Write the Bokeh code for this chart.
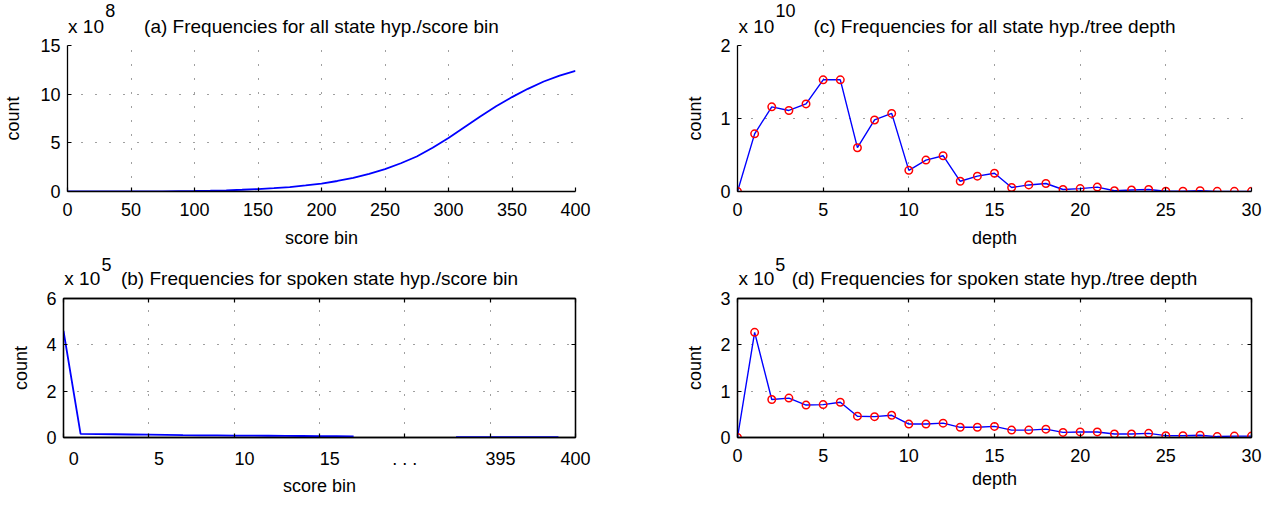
from bokeh.plotting import figure
from bokeh.layouts import column, row
from bokeh.models import (Range1d, LinearAxis, FixedTicker, SingleIntervalTicker, Grid)
from bokeh.embed import file_html
from bokeh.resources import INLINE

FONT = "Liberation Sans"
FS = "18px"
FS_HEAD = "19px"

# ---------------- data ----------------
# (a) all state hyp. per score bin, counts in units of 1e8
score_bins_a = [0, 25, 50, 75, 100, 112.5, 125, 137.5, 150, 162.5, 175, 187.5, 200, 212.5,
                225, 237.5, 250, 262.5, 275, 287.5, 300, 312.5, 325, 337.5, 350, 362.5,
                375, 387.5, 400]
counts_a = [0.0, 0.0, 0.005, 0.015, 0.05, 0.08, 0.12, 0.18, 0.25, 0.34, 0.45, 0.62, 0.82,
            1.08, 1.4, 1.82, 2.3, 2.9, 3.6, 4.5, 5.5, 6.6, 7.7, 8.75, 9.7, 10.55, 11.3,
            11.9, 12.4]

# (b) spoken state hyp. per score bin (broken axis), counts in units of 1e5
b_pos_left = [0, 1, 2, 3, 4, 5, 6, 7, 8, 9, 10, 11, 12, 13, 14, 15, 16, 17]
b_counts_left = [4.6, 0.16, 0.15, 0.14, 0.13, 0.12, 0.11, 0.10, 0.095, 0.09, 0.085,
                 0.08, 0.075, 0.07, 0.065, 0.06, 0.055, 0.05]
b_pos_right = [23, 24, 25, 26, 27, 28, 29]
b_counts_right = [0.02, 0.02, 0.015, 0.015, 0.01, 0.01, 0.01]
b_label_pos = [0.6, 5.6, 10.6, 15.6, 20, 25.6, 30]
b_label_text = ["0", "5", "10", "15", ". . .", "395", "400"]

# (c) all state hyp. per tree depth, counts in units of 1e10
depth = list(range(31))
counts_c = [0.0, 0.79, 1.16, 1.11, 1.20, 1.53, 1.53, 0.60, 0.98, 1.07, 0.29, 0.43, 0.49,
            0.14, 0.21, 0.25, 0.055, 0.09, 0.11, 0.027, 0.04, 0.06, 0.01, 0.02, 0.027,
            0.004, 0.005, 0.01, 0.002, 0.002, 0.002]

# (d) spoken state hyp. per tree depth, counts in units of 1e5
counts_d = [0.0, 2.27, 0.82, 0.85, 0.70, 0.71, 0.76, 0.46, 0.45, 0.48, 0.29, 0.29, 0.31,
            0.22, 0.22, 0.24, 0.16, 0.16, 0.18, 0.11, 0.12, 0.12, 0.075, 0.075, 0.09,
            0.04, 0.04, 0.05, 0.02, 0.03, 0.03]

titles = ["(a) Frequencies for all state hyp./score bin",
          "(b) Frequencies for spoken state hyp./score bin",
          "(c) Frequencies for all state hyp./tree depth",
          "(d) Frequencies for spoken state hyp./tree depth"]
exponents = ["8", "5", "10", "5"]

BLUE = "#0000ff"
RED = "#ff0000"


def style_axis(ax, label_standoff=None):
    ax.axis_line_color = "black"
    ax.axis_line_width = 1.3
    ax.major_tick_in = 4
    ax.major_tick_out = 0
    ax.major_tick_line_color = "black"
    ax.major_tick_line_width = 1.2
    ax.minor_tick_in = 4
    ax.minor_tick_out = 0
    ax.minor_tick_line_color = None
    ax.minor_tick_line_width = 1.2
    ax.major_label_text_font = FONT
    ax.major_label_text_font_size = FS
    ax.major_label_text_color = "black"
    ax.axis_label_text_font = FONT
    ax.axis_label_text_font_size = FS
    ax.axis_label_text_font_style = "normal"
    ax.axis_label_text_color = "black"
    if label_standoff is not None:
        ax.axis_label_standoff = label_standoff


def style_grid(g):
    g.grid_line_color = "black"
    g.grid_line_alpha = 0.75
    g.grid_line_width = 1
    g.grid_line_dash = "1 13"


def make_fig(width, height, xr, yr, borders, no_x_axis=False):
    l, r, t, b = borders
    p = figure(width=width, height=height, x_range=Range1d(*xr), y_range=Range1d(*yr),
               output_backend="svg", toolbar_location=None, title=None,
               min_border_left=l, min_border_right=r, min_border_top=t, min_border_bottom=b,
               x_axis_type=None if no_x_axis else "linear")
    p.background_fill_color = "white"
    p.border_fill_color = "white"
    return p


def add_head(p, x10_pos, exp_pos, xmid, title, exp, s_main, s_sup, box_ticks=None):
    # header line: "x 10" and the panel title, as labels of an axis above the frame
    head = LinearAxis(ticker=FixedTicker(ticks=[x10_pos, xmid], minor_ticks=box_ticks or []),
                      major_label_overrides={x10_pos: "x 10", xmid: title})
    style_axis(head, 0)
    head.major_label_text_font_size = FS_HEAD
    head.major_tick_line_color = None
    head.major_label_standoff = s_main
    if box_ticks:
        head.minor_tick_line_color = "black"
    else:
        head.axis_line_color = None
    p.add_layout(head, "above")
    # exponent, raised above the header line
    sup = LinearAxis(ticker=FixedTicker(ticks=[exp_pos]),
                     major_label_overrides={exp_pos: exp})
    style_axis(sup, 0)
    sup.axis_line_color = None
    sup.major_tick_line_color = None
    sup.major_label_standoff = s_sup
    p.add_layout(sup, "above")


def add_right_box(p, yticks):
    p.outline_line_color = "black"
    p.outline_line_width = 1.3
    right = LinearAxis(ticker=FixedTicker(ticks=[], minor_ticks=yticks))
    style_axis(right, 0)
    right.major_label_standoff = 0
    right.minor_tick_line_color = "black"
    p.add_layout(right, "right")


# ---------------- (a) ----------------
pa = make_fig(674, 250, (0, 400), (0, 15), (63, 99, 45, 59))
pa.outline_line_color = None
pa.xaxis.ticker = SingleIntervalTicker(interval=50, num_minor_ticks=0)
pa.yaxis.ticker = SingleIntervalTicker(interval=5, num_minor_ticks=0)
pa.xaxis.axis_label = "score bin"
pa.yaxis.axis_label = "count"
style_axis(pa.xaxis[0], 9)
style_axis(pa.yaxis[0], 14)
pa.xaxis.major_label_standoff = 11
pa.yaxis.major_label_standoff = 7
style_grid(pa.xgrid[0]); style_grid(pa.ygrid[0])
pa.line(score_bins_a, counts_a, line_color=BLUE, line_width=1.8)
add_head(pa, 14.6, 33.6, 200, titles[0], exponents[0], 9, -4)

# ---------------- (b) ----------------
pb = make_fig(674, 248, (0, 30), (0, 6), (63, 99, 48, 54), no_x_axis=True)
b_grid_ticks = [0, 5, 10, 15, 20, 25, 30]
by_ticks = [0, 2, 4, 6]
pb.yaxis.ticker = FixedTicker(ticks=by_ticks)
pb.yaxis.axis_label = "count"
style_axis(pb.yaxis[0], 12)
pb.yaxis.major_label_standoff = 7
style_grid(pb.ygrid[0])
ax_b = LinearAxis(ticker=FixedTicker(ticks=b_label_pos, minor_ticks=b_grid_ticks),
                  major_label_overrides={pos: txt for pos, txt in zip(b_label_pos, b_label_text)})
style_axis(ax_b, 4)
ax_b.major_tick_line_color = None
ax_b.minor_tick_line_color = "black"
ax_b.major_label_standoff = 11
ax_b.axis_label = "score bin"
pb.add_layout(ax_b, "below")
gb = Grid(dimension=0, ticker=FixedTicker(ticks=b_grid_ticks))
style_grid(gb)
pb.add_layout(gb)
add_right_box(pb, by_ticks)
pb.line(b_pos_left, b_counts_left, line_color=BLUE, line_width=1.8)
pb.line(b_pos_right, b_counts_right, line_color=BLUE, line_width=1.8)
add_head(pb, 1.1, 2.52, 15, titles[1], exponents[1], 10, -6, box_ticks=b_grid_ticks)

# ---------------- (c) ----------------
pc = make_fig(589, 250, (0, 30), (0, 2), (63, 12, 45, 59))
pc.outline_line_color = None
pc.xaxis.ticker = SingleIntervalTicker(interval=5, num_minor_ticks=0)
pc.yaxis.ticker = SingleIntervalTicker(interval=1, num_minor_ticks=0)
pc.xaxis.axis_label = "depth"
pc.yaxis.axis_label = "count"
style_axis(pc.xaxis[0], 9)
style_axis(pc.yaxis[0], 12)
pc.xaxis.major_label_standoff = 11
pc.yaxis.major_label_standoff = 7
style_grid(pc.xgrid[0]); style_grid(pc.ygrid[0])
pc.line(depth, counts_c, line_color=BLUE, line_width=1.4)
pc.scatter(depth, counts_c, marker="circle", size=7.5, fill_color=None,
           line_color=RED, line_width=1.5)
add_head(pc, 1.1, 2.8, 15, titles[2], exponents[2], 9, -4)

# ---------------- (d) ----------------
pd_ = make_fig(589, 248, (0, 30), (0, 3), (63, 12, 48, 54))
d_grid_ticks = [0, 5, 10, 15, 20, 25, 30]
dy_ticks = [0, 1, 2, 3]
pd_.xaxis.ticker = FixedTicker(ticks=d_grid_ticks)
pd_.yaxis.ticker = FixedTicker(ticks=dy_ticks)
pd_.xaxis.axis_label = "depth"
pd_.yaxis.axis_label = "count"
style_axis(pd_.xaxis[0], 4)
style_axis(pd_.yaxis[0], 12)
pd_.xaxis.major_label_standoff = 11
pd_.yaxis.major_label_standoff = 7
style_grid(pd_.xgrid[0]); style_grid(pd_.ygrid[0])
add_right_box(pd_, dy_ticks)
pd_.line(depth, counts_d, line_color=BLUE, line_width=1.4)
pd_.scatter(depth, counts_d, marker="circle", size=7.5, fill_color=None,
            line_color=RED, line_width=1.5)
add_head(pd_, 1.1, 2.5, 15, titles[3], exponents[3], 10, -6, box_ticks=d_grid_ticks)

layout = column(row(pa, pc), row(pb, pd_))
open("out.html", "w").write(file_html(layout, INLINE))
